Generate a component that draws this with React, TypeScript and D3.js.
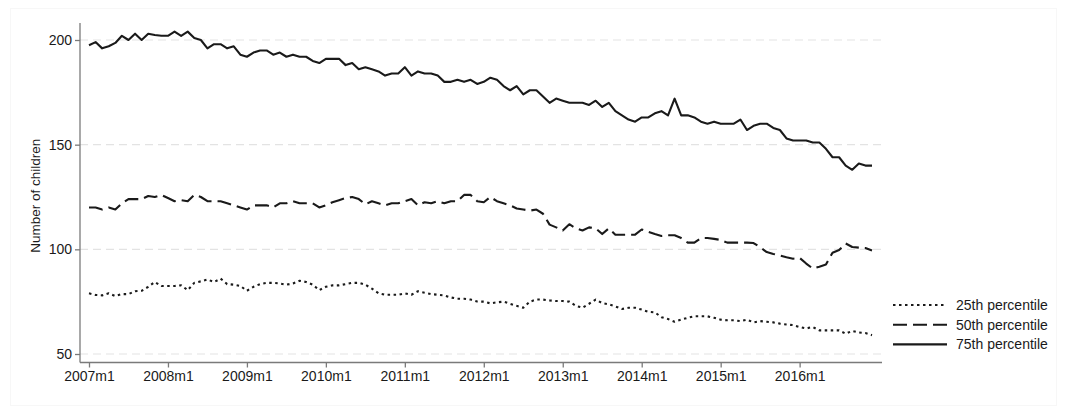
import React, { useRef, useEffect } from "react";
import * as d3 from "d3";

// Monthly percentiles of number of children, 2007m1 .. 2016m12
const years = [2007, 2008, 2009, 2010, 2011, 2012, 2013, 2014, 2015, 2016];
const yTicks = [50, 100, 150, 200];

const p25: number[] = [
  79, 78.2, 78, 79, 77.7, 78.6, 78.6, 80, 80.2, 82.1, 84.4, 82.5,
  82.5, 82.5, 82.8, 80.5, 84, 84.7, 85.6, 84.4, 86, 83.4, 83.1, 82.5,
  80.2, 82.1, 83.4, 84, 84, 83.7, 83.1, 83.7, 85, 84.4, 83.1, 80.5,
  82.1, 82.8, 82.8, 83.4, 84, 84, 83.1, 81.2, 79, 78.3, 78.3, 78.3,
  79, 78.3, 80, 79.3, 78.6, 78.3, 78, 77, 76.4, 76.4, 76, 75.1,
  75, 74.2, 74.7, 75, 74, 73, 72.1, 75, 76, 76, 75.6, 75.3,
  75.3, 75, 73, 72.1, 74, 76, 74.3, 73.7, 72.7, 71.5, 72.1, 72.1,
  71.2, 70.2, 69.9, 67.6, 66.7, 65.4, 66.4, 67.3, 68, 68, 68, 67.3,
  66.4, 66.1, 66.1, 65.7, 66.4, 65.1, 65.7, 65.4, 65.1, 64.5, 64.1, 63.8,
  62.9, 62.2, 62.9, 61.3, 61.3, 61.3, 61.3, 59.7, 61, 60.3, 60, 59,
];

const p50: number[] = [
  120, 120, 119, 120, 119, 122, 124, 124, 124, 125.5, 125, 126,
  124.5, 123, 123.5, 123, 126, 125, 123, 123, 123, 122, 121, 120,
  119, 121, 121, 121, 120, 122, 122, 123, 122, 122, 122, 120,
  121, 122.5, 123.5, 124.5, 125, 124, 121.5, 123, 122, 121, 122, 122,
  123, 124, 121, 122.5, 122, 123, 122, 123, 123, 126, 126, 123,
  122.5, 125, 123, 122, 121, 119.5, 119, 118.5, 119, 117, 111.8, 110.5,
  109, 112, 110, 109, 110.5, 110, 107.3, 110, 107, 107, 107, 107,
  109.5, 108.3, 107.3, 106.4, 106.7, 106.7, 105.4, 103.2, 103.2, 105.4, 105.4, 105,
  104.5, 103.2, 103.2, 103.2, 103.2, 103, 101, 98.7, 97.8, 97.1, 96.2, 95.5,
  95.9, 93.2, 90.8, 91.7, 92.7, 98.4, 99.7, 102.8, 101.1, 100.8, 100.6, 99.4,
];

const p75: number[] = [
  197.5, 199, 196, 197, 198.6, 202, 200, 203, 200, 203, 202.4, 202,
  202, 204, 202, 204, 201, 200, 196, 198, 198, 196, 197, 193,
  192, 194, 195, 195, 193, 194, 192, 193, 192, 192, 190, 189,
  191, 191, 191, 188, 189, 186, 187, 186, 185, 183, 184, 184,
  187, 183, 185, 184, 184, 183, 180, 180, 181, 180, 181, 179,
  180, 182, 181, 178, 176, 178, 174, 176, 176, 173, 170, 172,
  171, 170, 170, 170, 169, 171, 168, 170, 166, 164, 162, 161,
  163, 163, 165, 166, 164, 172, 164, 164, 163, 161, 160, 161,
  160, 160, 160, 162, 157, 159, 160, 160, 158, 157, 153, 152,
  152, 152, 151, 151, 148, 144, 144, 140, 138, 141, 140, 140,
];

const seriesNames = ["25th percentile", "50th percentile", "75th percentile"];
const seriesData = [p25, p50, p75];
const dashes = ["2.5 3.5", "14 6", null];

const App: React.FC = () => {
  const svgRef = useRef<SVGSVGElement | null>(null);

  useEffect(() => {
    const width = 1067;
    const height = 414;
    const ink = "#1a1a1a";
    const font = "Arial, 'Liberation Sans', Helvetica, sans-serif";

    const svg = d3.select(svgRef.current);
    svg.selectAll("*").remove();
    svg.attr("width", width).attr("height", height);

    svg.append("rect").attr("width", width).attr("height", height).attr("fill", "#fff");
    // faint outer graph region
    svg
      .append("rect")
      .attr("x", 10.5)
      .attr("y", 8.5)
      .attr("width", 1046)
      .attr("height", 397)
      .attr("fill", "none")
      .attr("stroke", "#f7f7f7");

    // plot frame
    const axisLeft = 80;
    const axisRight = 882;
    const axisTop = 23;
    const axisBottom = 362.5;

    const x = d3.scaleLinear().domain([0, 119]).range([89, 872]);
    const y = d3.scaleLinear().domain([50, 200]).range([354, 40]);

    // gridlines
    svg
      .append("g")
      .selectAll("line")
      .data(yTicks)
      .join("line")
      .attr("x1", axisLeft)
      .attr("x2", axisRight)
      .attr("y1", (d) => y(d))
      .attr("y2", (d) => y(d))
      .attr("stroke", "#e3e3e3")
      .attr("stroke-width", 1.2)
      .attr("stroke-dasharray", "8 5");

    // y axis
    const yAxis = svg
      .append("g")
      .attr("transform", `translate(${axisLeft},0)`)
      .call(d3.axisLeft(y).tickValues(yTicks).tickSize(5).tickPadding(3).tickSizeOuter(0));
    yAxis.select(".domain").remove();
    yAxis.append("line").attr("x1", 0).attr("x2", 0).attr("y1", axisTop).attr("y2", axisBottom);

    // x axis
    const xAxis = svg
      .append("g")
      .attr("transform", `translate(0,${axisBottom})`)
      .call(
        d3
          .axisBottom(x)
          .tickValues(years.map((_, i) => i * 12))
          .tickFormat((d) => `${years[(d as number) / 12]}m1`)
          .tickSize(5)
          .tickPadding(4)
      );
    xAxis.select(".domain").remove();
    xAxis.append("line").attr("x1", axisLeft).attr("x2", axisRight).attr("y1", 0).attr("y2", 0);

    [yAxis, xAxis].forEach((g) => {
      g.selectAll("line").attr("stroke", "#7a7a7a").attr("stroke-width", 1.3);
      g.selectAll("text").attr("fill", ink).style("font-family", font).style("font-size", "14px");
    });

    // y title
    svg
      .append("text")
      .attr("transform", `translate(40,${(axisTop + axisBottom) / 2 + 3}) rotate(-90)`)
      .attr("text-anchor", "middle")
      .style("font-family", font)
      .style("font-size", "13.5px")
      .attr("fill", ink)
      .text("Number of children");

    // lines
    const line = d3
      .line<number>()
      .x((_, i) => x(i))
      .y((d) => y(d));

    seriesData.forEach((data, k) => {
      svg
        .append("path")
        .datum(data)
        .attr("fill", "none")
        .attr("stroke", ink)
        .attr("stroke-width", 2.1)
        .attr("stroke-linejoin", "round")
        .attr("stroke-dasharray", dashes[k])
        .attr("d", line);
    });

    // legend
    const legend = svg
      .append("g")
      .selectAll("g")
      .data(seriesNames)
      .join("g")
      .attr("transform", (_, i) => `translate(893,${305 + i * 19.7})`);

    legend
      .append("line")
      .attr("x1", 0)
      .attr("x2", 54)
      .attr("stroke", ink)
      .attr("stroke-width", 2.1)
      .attr("stroke-dasharray", (_, i) => dashes[i]);

    legend
      .append("text")
      .attr("x", 63)
      .attr("dy", "0.36em")
      .style("font-family", font)
      .style("font-size", "14px")
      .attr("fill", ink)
      .text((d) => d);
  }, []);

  return (
    <div style={{ position: "absolute", left: 0, top: 0 }}>
      <svg ref={svgRef}></svg>
    </div>
  );
};

export default App;
